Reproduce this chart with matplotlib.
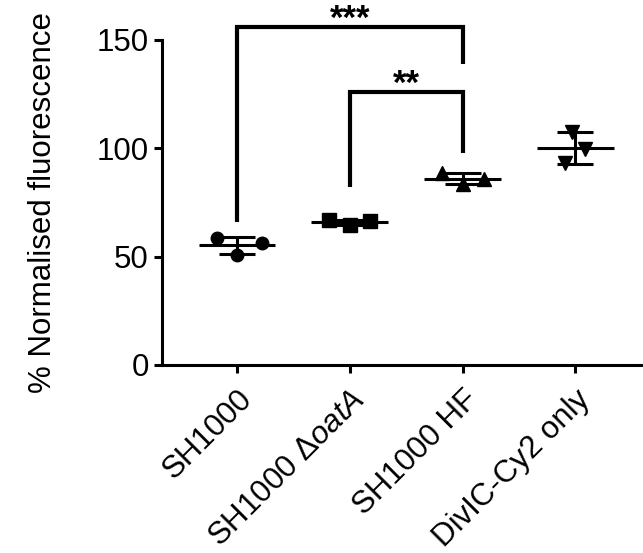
import numpy as np
import matplotlib
matplotlib.use("Agg")
import matplotlib.pyplot as plt

plt.rcParams['font.family'] = ['Liberation Sans', 'DejaVu Sans']
plt.rcParams['mathtext.fontset'] = 'custom'
plt.rcParams['mathtext.it'] = 'Liberation Sans:italic'
plt.rcParams['mathtext.rm'] = 'Liberation Sans'

# === DATA ===
groups = ["SH1000", r"SH1000 $\it{\Delta oatA}$", "SH1000 HF", "DivIC-Cy2 only"]
sh1000 = [58.6, 50.8, 56.3]
oata = [66.8, 64.4, 66.2]
hf = [88.5, 83.5, 86.0]
divic = [107.5, 99.5, 93.0]
values = [sh1000, oata, hf, divic]
markers = ['o', 's', '^', 'v']
msizes = [9, 10, 10, 10]

# significance brackets: (left group, right group, top, left foot, right foot, label)
brackets = [(1, 2, 126, 82, 98, '**'), (0, 2, 156, 66, 139, '***')]

# horizontal spread of the points in each column
jitter = [[-0.18, 0.0, 0.22], [-0.18, 0.0, 0.18],
          [-0.18, 0.0, 0.19], [-0.03, 0.09, -0.09]]

fig = plt.figure(figsize=(6.43, 5.53), dpi=100)
ax = fig.add_axes([0.252, 0.34, 0.748, 0.588])

for i, vals in enumerate(values):
    vals = np.array(vals)
    mean = vals.mean()
    sd = vals.std(ddof=1)
    ax.plot(i + np.array(jitter[i]), vals, linestyle='none', marker=markers[i],
            markersize=msizes[i], color='black', zorder=3)
    ax.hlines(mean, i - 0.34, i + 0.34, color='black', lw=2.2, zorder=4)
    ax.hlines([mean - sd, mean + sd], i - 0.16, i + 0.16, color='black', lw=2.2, zorder=4)
    ax.vlines(i, mean - sd, mean + sd, color='black', lw=2.2, zorder=4)

for a, b, top, foot_a, foot_b, label in brackets:
    ax.plot([a, a, b, b], [foot_a, top, top, foot_b], color='black', lw=3,
            clip_on=False, solid_joinstyle='miter', solid_capstyle='butt')
    ax.text((a + b) / 2, top - 0.8, label, ha='center', va='baseline',
            fontsize=25, fontweight='bold', clip_on=False)

ax.set_xlim(-0.665, 3.6)
ax.set_ylim(0, 150)
ax.set_yticks([0, 50, 100, 150])
ax.set_xticks(range(len(groups)))
ax.set_xticklabels(groups, rotation=45, ha='right', rotation_mode='anchor')
ax.set_ylabel('% Normalised fluorescence', fontsize=22.5, labelpad=28)

for side in ['top', 'right']:
    ax.spines[side].set_visible(False)
for side in ['left', 'bottom']:
    ax.spines[side].set_linewidth(2.2)
ax.tick_params(axis='both', width=2.2, length=6, labelsize=22.5, direction='out')
ax.tick_params(axis='x', pad=8)

fig.savefig('out.png', dpi=100)
